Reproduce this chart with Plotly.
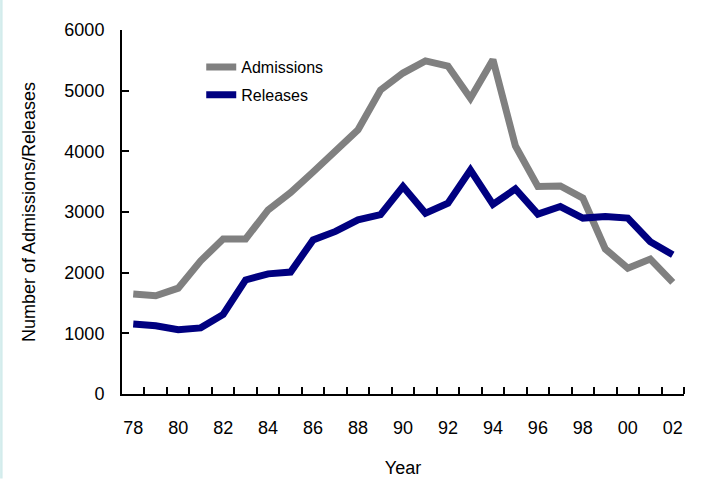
import plotly.graph_objects as go

years = ["78", "79", "80", "81", "82", "83", "84", "85", "86", "87", "88", "89", "90",
         "91", "92", "93", "94", "95", "96", "97", "98", "99", "00", "01", "02"]
admissions = [1650, 1620, 1745, 2195, 2555, 2555, 3035, 3320, 3660, 4000, 4355, 5010, 5290,
              5490, 5405, 4875, 5510, 4090, 3420, 3430, 3230, 2390, 2075, 2225, 1840]
releases = [1155, 1125, 1060, 1090, 1310, 1880, 1980, 2010, 2540, 2680, 2870, 2955, 3420,
            2980, 3145, 3690, 3125, 3380, 2965, 3090, 2900, 2925, 2900, 2510, 2295]
y_ticks = [0, 1000, 2000, 3000, 4000, 5000, 6000]

idx = list(range(len(years)))
FONT = "Liberation Sans, Arial, Helvetica, sans-serif"

fig = go.Figure()
fig.add_trace(go.Scatter(x=idx, y=admissions, mode="lines", name="Admissions",
                         legendgroup="a",
                         line=dict(color="#808080", width=7)))
fig.add_trace(go.Scatter(x=idx, y=releases, mode="lines", name="Releases",
                         legendgroup="r",
                         line=dict(color="#000080", width=7)))

fig.update_layout(
    width=714, height=479,
    margin=dict(l=122, r=29.5, t=30, b=84.5, autoexpand=False),
    paper_bgcolor="white", plot_bgcolor="white",
    font=dict(family=FONT, size=18, color="black"),
    showlegend=True,
    legend=dict(x=0.141, y=0.945, xanchor="left", yanchor="top",
                bgcolor="rgba(0,0,0,0)", borderwidth=0,
                font=dict(family=FONT, size=16, color="black"),
                traceorder="grouped", tracegroupgap=4),
    xaxis=dict(
        range=[-0.5, len(years) - 0.5],
        tickmode="array", tickvals=idx[::2], ticktext=years[::2],
        ticks="", showgrid=False, zeroline=False,
        showline=True, linecolor="black", linewidth=2,
        ticklabelstandoff=16, automargin=False,
        minor=dict(tickvals=[i + 0.5 for i in idx], ticks="inside",
                   ticklen=7, tickwidth=2, tickcolor="black", showgrid=False),
        title=dict(text="Year", font=dict(family=FONT, size=18), standoff=25),
        fixedrange=True,
    ),
    yaxis=dict(
        range=[0, 6000],
        tickmode="array", tickvals=y_ticks,
        ticks="inside", ticklen=7, tickwidth=2, tickcolor="black",
        showgrid=False, zeroline=False,
        showline=True, linecolor="black", linewidth=2,
        ticklabelstandoff=12, automargin=False,
        title=dict(text="Number of Admissions/Releases",
                   font=dict(family=FONT, size=18),
                   standoff=24),
        fixedrange=True,
    ),
    shapes=[dict(type="rect", xref="paper", yref="paper",
                 x0=-122 / 562.5, x1=-119.5 / 562.5,
                 y0=-84.5 / 364.5, y1=(479 - 30) / 364.5,
                 fillcolor="#d3ecec", line=dict(width=0), layer="below")],
)

fig.write_html("out.html", config={"displayModeBar": False},
               post_script="document.body.style.margin='0';")
